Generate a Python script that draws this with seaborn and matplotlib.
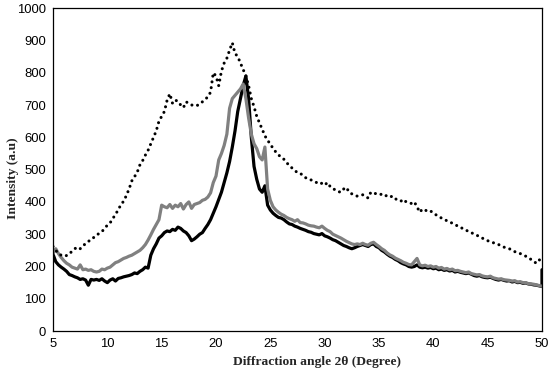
import numpy as np
import pandas as pd
import matplotlib
matplotlib.use("Agg")
import matplotlib.pyplot as plt
import seaborn as sns

# 2-theta sampling grid (every 0.25 degree from 5 to 50)
two_theta = np.linspace(5, 50, 181)

# black solid trace
sample_a = [
    238, 215, 205, 198, 192, 185, 175, 172, 168, 165, 160, 162, 158, 142, 160, 158,
    160, 157, 162, 155, 150, 158, 162, 155, 163, 165, 168, 170, 172, 175, 180, 178,
    185, 190, 198, 195, 235, 255, 270, 288, 295, 305, 310, 308, 315, 312, 322, 318,
    310, 305, 295, 280, 285, 292, 300, 305, 318, 330, 345, 365, 385, 408, 430, 460,
    490, 525, 570, 620, 680, 720, 760, 790, 720, 600, 510, 470, 440, 430, 450, 390,
    375, 365, 358, 352, 350, 345, 338, 332, 330, 325, 322, 318, 315, 312, 308, 306,
    302, 300, 298, 302, 295, 292, 288, 283, 280, 275, 270, 265, 262, 258, 255, 258,
    262, 265, 268, 265, 262, 268, 270, 262, 258, 250, 245, 238, 232, 228, 222, 218,
    212, 208, 205, 200, 198, 200, 205, 198, 196, 198, 195, 197, 193, 195, 190, 192,
    188, 190, 186, 188, 183, 185, 182, 180, 178, 180, 176, 172, 170, 172, 168, 166,
    165, 167, 163, 160, 158, 160, 157, 155, 156, 152, 154, 150, 151, 148, 149, 146,
    145, 143, 142, 140, 138,
]
# last reading of the black trace jumps up at 50 degrees
sample_a_end_x = [50.0]
sample_a_end = [190]

# grey solid trace
sample_b = [
    240, 255, 240, 228, 218, 210, 205, 198, 195, 192, 205, 190, 192, 188, 190, 185,
    183, 185, 192, 190, 195, 198, 205, 212, 215, 220, 225, 228, 232, 235, 240, 245,
    250, 258, 268, 282, 298, 315, 330, 345, 390, 385, 382, 392, 380, 390, 385, 395,
    378, 392, 400, 380, 392, 395, 398, 405, 408, 415, 428, 460, 480, 530, 550, 575,
    610, 690, 720, 730, 740, 750, 765, 720, 660, 610, 580, 565, 540, 530, 570, 440,
    405, 385, 375, 368, 362, 358, 352, 348, 345, 340, 345, 336, 335, 332, 328, 326,
    325, 322, 320, 325, 318, 312, 308, 300, 296, 292, 288, 283, 278, 274, 270, 268,
    270, 268, 272, 268, 266, 272, 275, 268, 262, 255, 250, 242, 236, 232, 226, 222,
    218, 213, 210, 206, 205, 215, 225, 205, 202, 204, 200, 202, 198, 200, 195, 197,
    192, 194, 190, 192, 187, 188, 185, 183, 181, 183, 178, 176, 174, 175, 171, 169,
    168, 170, 165, 163, 161, 162, 159, 158, 157, 155, 156, 152, 153, 150, 150, 147,
    146, 145, 143, 141, 139,
]

# black dotted trace
sample_c = [
    262, 250, 240, 235, 232, 234, 238, 248, 255, 260, 255, 265, 270, 278, 282, 290,
    298, 302, 308, 318, 328, 335, 348, 362, 375, 392, 402, 420, 440, 465, 478, 492,
    515, 528, 545, 560, 580, 600, 620, 650, 665, 680, 715, 735, 705, 715, 712, 700,
    692, 710, 705, 700, 700, 698, 705, 710, 718, 725, 740, 800, 790, 760, 805, 830,
    845, 870, 893, 860, 850, 830, 810, 790, 760, 720, 695, 665, 645, 625, 605, 590,
    580, 565, 555, 545, 540, 532, 522, 512, 505, 498, 490, 488, 483, 475, 470, 468,
    465, 460, 455, 458, 452, 460, 448, 440, 438, 432, 430, 440, 445, 430, 425, 420,
    418, 420, 422, 418, 412, 430, 428, 425, 422, 424, 418, 420, 415, 418, 410, 405,
    402, 408, 400, 398, 395, 400, 385, 368, 378, 375, 370, 372, 365, 360, 355, 350,
    345, 342, 338, 334, 330, 325, 320, 318, 313, 308, 305, 300, 297, 292, 288, 284,
    280, 276, 274, 270, 268, 264, 260, 257, 255, 250, 246, 242, 240, 236, 232, 226,
    222, 215, 210, 220, 225,
]

x_ticks = [5, 10, 15, 20, 25, 30, 35, 40, 45, 50]
y_ticks = [0, 100, 200, 300, 400, 500, 600, 700, 800, 900, 1000]

df_a = pd.DataFrame({"x": list(two_theta) + sample_a_end_x, "y": sample_a + sample_a_end})
df_b = pd.DataFrame({"x": two_theta, "y": sample_b})
df_c = pd.DataFrame({"x": two_theta, "y": sample_c})

sns.set_style("white")
plt.rcParams["font.family"] = ["Liberation Sans", "DejaVu Sans"]

fig = plt.figure(figsize=(5.5, 3.72), dpi=100)
ax = fig.add_axes([0.0964, 0.110, 0.889, 0.868])

sns.lineplot(data=df_a, x="x", y="y", estimator=None, sort=False,
             color="black", linewidth=2.3, ax=ax)
sns.lineplot(data=df_b, x="x", y="y", estimator=None, sort=False,
             color="#808080", linewidth=2.3, ax=ax)
sns.lineplot(data=df_c, x="x", y="y", estimator=None, sort=False,
             color="black", linewidth=2.2, linestyle=(0, (0.01, 1.9)),
             dash_capstyle="round", ax=ax)

ax.set_xlim(5, 50)
ax.set_ylim(0, 1000)
ax.set_xticks(x_ticks)
ax.set_yticks(y_ticks)
ax.tick_params(axis="both", direction="out", length=3, width=0.8,
               labelsize=9.4, colors="black", pad=2)
ax.tick_params(axis="x", pad=2)

for side in ["left", "right", "top", "bottom"]:
    ax.spines[side].set_visible(True)
    ax.spines[side].set_color("black")
    ax.spines[side].set_linewidth(0.9)

ax.set_xlabel("")
ax.set_ylabel("")
fig.text(0.577, 0.026, "Diffraction angle 2\u03b8 (Degree)", ha="center", va="center",
         fontsize=9.7, fontweight="bold", family=["Liberation Serif", "DejaVu Serif"])
fig.text(0.024, 0.52, "Intensity (a.u)", ha="center", va="center", rotation=90,
         fontsize=9.7, fontweight="bold", family=["Liberation Serif", "DejaVu Serif"])

fig.savefig("out.png", dpi=100)
